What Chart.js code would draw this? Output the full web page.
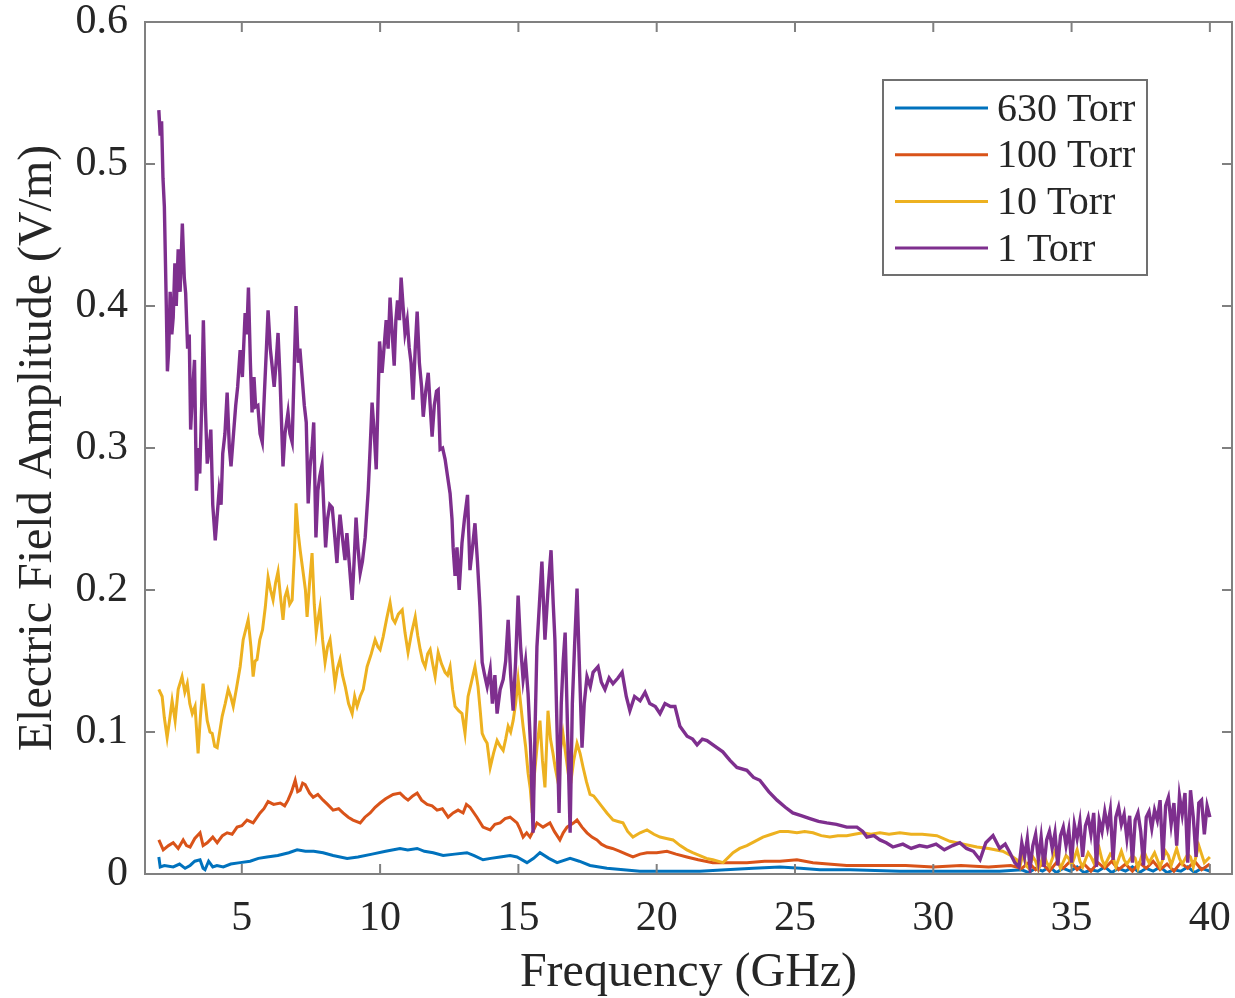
<!DOCTYPE html>
<html lang="en">
<head>
  <meta charset="UTF-8">
  <title>Electric Field Amplitude vs Frequency</title>
  <style>
    body {
      margin: 0;
      background: #fff;
    }
    #wrap {
      width: 1235px;
      height: 998px;
    }
  </style>
</head>
<body>

<div id="wrap">
  <canvas id="fieldChart" width="1235" height="998"></canvas>
</div>

<script src="https://cdn.jsdelivr.net/npm/chart.js"></script>
<script>
  // axis ticks
  const xTicks = [5, 10, 15, 20, 25, 30, 35, 40];
  const yTicks = [0, 0.1, 0.2, 0.3, 0.4, 0.5, 0.6];

  const seriesLabels = ['630 Torr', '100 Torr', '10 Torr', '1 Torr'];
  const seriesColors = ['#0072BD', '#D95319', '#EDB120', '#7E2F8E'];

  // [frequency GHz, amplitude V/m]
  const torr630 = [
    [2.00,0.012],[2.05,0.005],[2.20,0.006],[2.52,0.005],[2.75,0.007],[2.95,0.004],[3.13,0.006],[3.30,0.009],
    [3.49,0.010],[3.60,0.004],[3.67,0.003],[3.80,0.009],[3.95,0.005],[4.10,0.006],[4.33,0.005],[4.60,0.007],
    [4.94,0.008],[5.30,0.009],[5.60,0.011],[5.91,0.012],[6.30,0.013],[6.70,0.015],[7.00,0.017],[7.30,0.016],
    [7.60,0.016],[7.94,0.015],[8.30,0.013],[8.81,0.011],[9.20,0.012],[9.71,0.014],[10.20,0.016],[10.72,0.018],
    [11.00,0.017],[11.34,0.018],[11.60,0.016],[11.92,0.015],[12.28,0.013],[12.70,0.014],[13.14,0.015],[13.40,0.013],
    [13.72,0.010],[14.00,0.011],[14.34,0.012],[14.70,0.013],[14.95,0.012],[15.31,0.008],[15.55,0.011],[15.78,0.015],
    [16.10,0.011],[16.40,0.008],[16.87,0.011],[17.20,0.009],[17.59,0.006],[18.20,0.004],[18.80,0.003],[19.39,0.002],
    [20.50,0.002],[21.56,0.002],[22.50,0.003],[23.50,0.004],[24.46,0.005],[25.20,0.004],[25.90,0.003],[27.00,0.003],
    [28.79,0.002],[30.50,0.002],[32.40,0.002],[33.20,0.003],[33.45,0.001],[33.70,0.004],[33.95,0.002],[34.20,0.005],
    [34.45,0.001],[34.70,0.004],[34.95,0.002],[35.20,0.005],[35.45,0.001],[35.70,0.003],[35.95,0.002],[36.20,0.005],
    [36.45,0.001],[36.70,0.004],[36.95,0.002],[37.20,0.005],[37.45,0.001],[37.70,0.004],[37.95,0.002],[38.20,0.005],
    [38.45,0.001],[38.70,0.003],[38.95,0.002],[39.20,0.005],[39.45,0.001],[39.70,0.004],[40.00,0.002]
  ];

  const torr100 = [
    [2.00,0.024],[2.16,0.017],[2.35,0.020],[2.52,0.022],[2.70,0.018],[2.88,0.024],[3.00,0.020],[3.13,0.019],
    [3.30,0.025],[3.49,0.029],[3.60,0.020],[3.75,0.022],[3.95,0.026],[4.11,0.022],[4.30,0.027],[4.47,0.029],
    [4.65,0.028],[4.83,0.033],[5.00,0.034],[5.19,0.038],[5.41,0.036],[5.66,0.043],[5.80,0.046],[5.95,0.051],
    [6.15,0.049],[6.39,0.050],[6.55,0.048],[6.67,0.052],[6.80,0.058],[6.93,0.066],[7.02,0.058],[7.11,0.059],
    [7.20,0.064],[7.29,0.063],[7.45,0.057],[7.58,0.054],[7.75,0.056],[7.94,0.052],[8.10,0.049],[8.30,0.045],
    [8.50,0.046],[8.66,0.043],[8.85,0.040],[9.02,0.038],[9.28,0.036],[9.45,0.040],[9.64,0.043],[9.82,0.047],
    [10.00,0.050],[10.20,0.053],[10.47,0.056],[10.72,0.057],[10.88,0.054],[11.01,0.052],[11.18,0.055],[11.34,0.057],
    [11.50,0.052],[11.70,0.049],[11.88,0.048],[12.06,0.045],[12.25,0.046],[12.46,0.040],[12.64,0.043],[12.82,0.045],
    [13.00,0.043],[13.12,0.049],[13.25,0.047],[13.50,0.040],[13.72,0.033],[13.98,0.031],[14.15,0.035],[14.34,0.036],
    [14.52,0.039],[14.70,0.040],[14.95,0.036],[15.05,0.032],[15.17,0.026],[15.30,0.029],[15.42,0.026],[15.55,0.031],
    [15.67,0.036],[15.89,0.033],[16.14,0.036],[16.30,0.030],[16.50,0.024],[16.62,0.029],[16.76,0.033],[17.00,0.036],
    [17.12,0.038],[17.30,0.033],[17.48,0.029],[17.66,0.026],[17.84,0.024],[18.00,0.021],[18.20,0.019],[18.40,0.018],
    [18.67,0.016],[18.90,0.014],[19.14,0.012],[19.40,0.014],[19.65,0.015],[20.00,0.015],[20.37,0.016],[20.70,0.014],
    [21.09,0.012],[21.50,0.010],[22.03,0.008],[22.60,0.008],[23.26,0.008],[23.90,0.009],[24.46,0.009],[25.07,0.010],
    [25.65,0.008],[26.20,0.007],[26.87,0.006],[27.50,0.006],[28.07,0.006],[29.00,0.006],[30.00,0.005],[31.00,0.006],
    [32.00,0.005],[32.80,0.006],[33.20,0.004],[33.45,0.008],[33.70,0.003],[33.95,0.007],[34.20,0.002],[34.45,0.008],
    [34.70,0.004],[34.95,0.009],[35.20,0.003],[35.45,0.007],[35.70,0.002],[35.95,0.008],[36.20,0.004],[36.45,0.009],
    [36.70,0.003],[36.95,0.007],[37.20,0.002],[37.45,0.008],[37.70,0.004],[37.95,0.009],[38.20,0.003],[38.45,0.007],
    [38.70,0.002],[38.95,0.008],[39.20,0.004],[39.45,0.009],[39.70,0.003],[40.00,0.007]
  ];

  const torr10 = [
    [2.00,0.130],[2.12,0.125],[2.20,0.110],[2.30,0.096],[2.40,0.110],[2.48,0.122],[2.59,0.108],[2.70,0.130],
    [2.84,0.139],[2.94,0.128],[3.03,0.134],[3.12,0.120],[3.21,0.113],[3.31,0.118],[3.42,0.085],[3.50,0.110],
    [3.60,0.134],[3.68,0.120],[3.75,0.108],[3.85,0.100],[3.93,0.099],[4.02,0.090],[4.11,0.089],[4.20,0.100],
    [4.29,0.111],[4.40,0.120],[4.51,0.130],[4.60,0.125],[4.69,0.118],[4.80,0.130],[4.94,0.146],[5.05,0.165],
    [5.14,0.172],[5.23,0.179],[5.33,0.160],[5.41,0.139],[5.48,0.150],[5.55,0.151],[5.65,0.165],[5.75,0.172],
    [5.85,0.188],[5.95,0.209],[6.04,0.200],[6.13,0.193],[6.22,0.205],[6.31,0.213],[6.40,0.195],[6.49,0.179],
    [6.56,0.195],[6.64,0.200],[6.73,0.190],[6.82,0.193],[6.90,0.225],[6.96,0.261],[7.04,0.240],[7.11,0.228],
    [7.22,0.212],[7.30,0.200],[7.36,0.181],[7.45,0.205],[7.54,0.226],[7.62,0.190],[7.69,0.170],[7.76,0.180],
    [7.83,0.188],[7.92,0.165],[8.01,0.149],[8.10,0.160],[8.19,0.165],[8.28,0.150],[8.37,0.134],[8.46,0.145],
    [8.55,0.151],[8.64,0.140],[8.74,0.132],[8.86,0.120],[8.99,0.113],[9.08,0.125],[9.17,0.118],[9.28,0.125],
    [9.39,0.130],[9.53,0.146],[9.68,0.155],[9.82,0.165],[9.92,0.160],[10.00,0.158],[10.11,0.167],[10.24,0.180],
    [10.36,0.191],[10.45,0.180],[10.54,0.177],[10.66,0.183],[10.80,0.186],[10.90,0.170],[11.01,0.156],[11.14,0.170],
    [11.27,0.181],[11.36,0.168],[11.45,0.158],[11.54,0.150],[11.63,0.146],[11.72,0.155],[11.81,0.158],[11.90,0.148],
    [11.99,0.139],[12.10,0.156],[12.22,0.148],[12.35,0.142],[12.44,0.140],[12.53,0.146],[12.62,0.130],[12.71,0.118],
    [12.84,0.115],[12.96,0.113],[13.07,0.099],[13.18,0.125],[13.30,0.135],[13.43,0.146],[13.54,0.132],[13.62,0.115],
    [13.69,0.099],[13.78,0.095],[13.87,0.092],[13.98,0.075],[14.10,0.085],[14.23,0.094],[14.34,0.090],[14.45,0.087],
    [14.54,0.095],[14.63,0.104],[14.72,0.100],[14.81,0.108],[14.90,0.120],[14.99,0.137],[15.08,0.120],[15.17,0.104],
    [15.26,0.090],[15.35,0.071],[15.43,0.060],[15.50,0.043],[15.58,0.070],[15.67,0.089],[15.78,0.108],[15.87,0.080],
    [15.96,0.061],[16.07,0.115],[16.16,0.095],[16.25,0.085],[16.33,0.075],[16.40,0.068],[16.50,0.085],[16.61,0.099],
    [16.74,0.080],[16.87,0.061],[17.00,0.080],[17.12,0.092],[17.23,0.085],[17.34,0.075],[17.46,0.065],[17.59,0.056],
    [17.72,0.055],[17.84,0.052],[18.00,0.048],[18.20,0.043],[18.42,0.038],[18.60,0.037],[18.78,0.036],[18.95,0.030],
    [19.14,0.026],[19.40,0.029],[19.65,0.031],[19.90,0.028],[20.12,0.026],[20.35,0.025],[20.59,0.024],[20.85,0.020],
    [21.09,0.017],[21.30,0.015],[21.56,0.013],[21.80,0.011],[22.03,0.010],[22.40,0.008],[22.76,0.015],[23.00,0.018],
    [23.26,0.020],[23.55,0.023],[23.84,0.026],[24.15,0.028],[24.46,0.030],[24.75,0.030],[25.07,0.029],[25.35,0.030],
    [25.65,0.029],[25.95,0.027],[26.26,0.026],[26.55,0.027],[26.87,0.027],[27.15,0.028],[27.45,0.029],[27.75,0.028],
    [28.07,0.029],[28.40,0.028],[28.79,0.029],[29.20,0.028],[29.60,0.028],[30.13,0.027],[30.60,0.023],[31.10,0.021],
    [31.58,0.019],[32.00,0.018],[32.51,0.016],[32.80,0.013],[33.02,0.010],[33.13,0.005],[33.25,0.015],[33.35,0.006],
    [33.45,0.004],[33.60,0.012],[33.70,0.009],[33.80,0.003],[34.00,0.014],[34.10,0.008],[34.20,0.005],[34.40,0.016],
    [34.50,0.010],[34.60,0.004],[34.80,0.013],[34.90,0.011],[35.00,0.006],[35.20,0.017],[35.30,0.009],[35.40,0.005],
    [35.60,0.015],[35.70,0.012],[35.80,0.008],[36.00,0.018],[36.10,0.010],[36.20,0.006],[36.40,0.014],[36.50,0.012],
    [36.60,0.005],[36.80,0.016],[36.90,0.010],[37.00,0.007],[37.20,0.013],[37.30,0.011],[37.40,0.004],[37.60,0.017],
    [37.70,0.012],[37.80,0.008],[38.00,0.015],[38.10,0.010],[38.20,0.005],[38.40,0.016],[38.50,0.013],[38.60,0.006],
    [38.80,0.018],[38.90,0.011],[39.00,0.007],[39.20,0.014],[39.30,0.012],[39.40,0.005],[39.60,0.020],[39.70,0.014],
    [39.80,0.008],[40.00,0.012]
  ];

  const torr1 = [
    [2.00,0.538],[2.05,0.520],[2.10,0.530],[2.15,0.490],[2.20,0.470],[2.27,0.400],[2.31,0.354],[2.36,0.370],
    [2.41,0.410],[2.47,0.380],[2.52,0.392],[2.58,0.430],[2.63,0.400],[2.70,0.440],[2.77,0.410],[2.85,0.458],
    [2.92,0.420],[2.97,0.409],[3.04,0.370],[3.10,0.380],[3.15,0.313],[3.22,0.340],[3.29,0.362],[3.36,0.270],
    [3.43,0.300],[3.48,0.282],[3.55,0.330],[3.61,0.390],[3.68,0.330],[3.75,0.289],[3.82,0.300],[3.88,0.313],
    [3.95,0.260],[4.04,0.235],[4.10,0.250],[4.18,0.270],[4.25,0.260],[4.31,0.296],[4.39,0.310],[4.47,0.339],
    [4.55,0.300],[4.61,0.287],[4.70,0.310],[4.78,0.330],[4.85,0.343],[4.94,0.369],[5.02,0.350],[5.12,0.395],
    [5.18,0.380],[5.24,0.413],[5.31,0.360],[5.37,0.325],[5.44,0.350],[5.50,0.329],[5.58,0.330],[5.66,0.310],
    [5.74,0.304],[5.82,0.340],[5.89,0.370],[5.95,0.397],[6.03,0.370],[6.10,0.357],[6.17,0.343],[6.24,0.360],
    [6.31,0.381],[6.38,0.350],[6.45,0.310],[6.49,0.287],[6.56,0.310],[6.67,0.325],[6.74,0.310],[6.82,0.304],
    [6.90,0.360],[6.96,0.400],[7.04,0.360],[7.10,0.370],[7.18,0.350],[7.26,0.330],[7.33,0.318],[7.40,0.261],
    [7.47,0.287],[7.54,0.300],[7.60,0.318],[7.68,0.237],[7.75,0.270],[7.82,0.280],[7.90,0.288],[7.96,0.260],
    [8.03,0.230],[8.10,0.250],[8.18,0.260],[8.27,0.258],[8.35,0.240],[8.44,0.219],[8.50,0.240],[8.55,0.253],
    [8.62,0.240],[8.73,0.221],[8.80,0.240],[8.88,0.220],[8.99,0.193],[9.06,0.220],[9.13,0.251],[9.20,0.230],
    [9.28,0.212],[9.36,0.220],[9.46,0.237],[9.57,0.270],[9.64,0.300],[9.71,0.332],[9.79,0.310],[9.86,0.285],
    [9.92,0.330],[9.98,0.375],[10.07,0.353],[10.14,0.370],[10.22,0.390],[10.29,0.370],[10.36,0.406],[10.44,0.380],
    [10.51,0.358],[10.57,0.390],[10.63,0.404],[10.70,0.390],[10.76,0.420],[10.83,0.400],[10.90,0.381],[10.98,0.390],
    [11.05,0.371],[11.12,0.360],[11.19,0.334],[11.27,0.370],[11.34,0.396],[11.42,0.360],[11.50,0.343],[11.56,0.322],
    [11.65,0.340],[11.74,0.353],[11.81,0.330],[11.88,0.308],[11.96,0.330],[12.04,0.340],[12.10,0.341],[12.17,0.299],
    [12.26,0.300],[12.35,0.292],[12.44,0.280],[12.53,0.268],[12.60,0.250],[12.64,0.230],[12.71,0.210],[12.78,0.230],
    [12.86,0.200],[12.96,0.233],[13.05,0.250],[13.16,0.267],[13.25,0.214],[13.34,0.230],[13.43,0.247],[13.52,0.220],
    [13.61,0.188],[13.69,0.149],[13.78,0.140],[13.87,0.132],[13.98,0.144],[14.06,0.120],[14.15,0.140],[14.23,0.113],
    [14.34,0.130],[14.45,0.137],[14.54,0.150],[14.63,0.179],[14.72,0.140],[14.81,0.115],[14.90,0.150],[14.99,0.196],
    [15.08,0.160],[15.17,0.137],[15.26,0.150],[15.35,0.127],[15.44,0.090],[15.53,0.029],[15.60,0.100],[15.67,0.160],
    [15.76,0.190],[15.85,0.220],[15.96,0.165],[16.07,0.200],[16.18,0.228],[16.26,0.190],[16.32,0.165],[16.40,0.100],
    [16.47,0.043],[16.55,0.120],[16.62,0.150],[16.69,0.170],[16.78,0.100],[16.87,0.029],[16.95,0.120],[17.03,0.160],
    [17.12,0.201],[17.20,0.150],[17.30,0.089],[17.38,0.120],[17.48,0.139],[17.60,0.132],[17.70,0.142],[17.88,0.146],
    [18.00,0.135],[18.13,0.130],[18.28,0.138],[18.42,0.134],[18.60,0.138],[18.75,0.142],[18.90,0.125],[19.03,0.115],
    [19.20,0.125],[19.40,0.122],[19.58,0.128],[19.75,0.120],[19.95,0.118],[20.12,0.113],[20.30,0.120],[20.50,0.118],
    [20.66,0.118],[20.84,0.104],[21.10,0.097],[21.30,0.095],[21.46,0.091],[21.65,0.095],[21.82,0.094],[22.10,0.090],
    [22.39,0.086],[22.65,0.080],[22.90,0.075],[23.26,0.073],[23.50,0.068],[23.73,0.066],[24.05,0.058],[24.35,0.052],
    [24.65,0.047],[24.92,0.043],[25.25,0.041],[25.54,0.039],[25.85,0.037],[26.15,0.036],[26.50,0.035],[26.87,0.033],
    [27.24,0.033],[27.45,0.030],[27.60,0.026],[27.85,0.027],[28.07,0.024],[28.30,0.022],[28.54,0.019],[28.90,0.021],
    [29.20,0.018],[29.50,0.020],[29.77,0.019],[30.10,0.021],[30.40,0.017],[30.70,0.020],[30.96,0.022],[31.20,0.018],
    [31.45,0.016],[31.69,0.010],[31.90,0.022],[32.16,0.027],[32.40,0.018],[32.60,0.021],[32.77,0.015],[32.95,0.008],
    [33.10,0.005],[33.20,0.022],[33.30,0.012],[33.40,0.025],[33.50,0.004],[33.60,0.020],[33.70,0.028],[33.80,0.010],
    [33.90,0.026],[34.00,0.005],[34.10,0.024],[34.20,0.030],[34.30,0.018],[34.40,0.029],[34.50,0.006],[34.60,0.027],
    [34.70,0.033],[34.80,0.020],[34.90,0.031],[35.00,0.008],[35.10,0.035],[35.20,0.025],[35.30,0.037],[35.40,0.012],
    [35.50,0.034],[35.60,0.040],[35.70,0.028],[35.80,0.043],[35.90,0.005],[36.00,0.038],[36.10,0.030],[36.20,0.044],
    [36.30,0.033],[36.40,0.045],[36.50,0.010],[36.60,0.040],[36.70,0.047],[36.80,0.035],[36.90,0.042],[37.00,0.025],
    [37.10,0.041],[37.20,0.008],[37.30,0.038],[37.40,0.043],[37.50,0.030],[37.60,0.006],[37.70,0.040],[37.80,0.044],
    [37.90,0.032],[38.00,0.045],[38.10,0.038],[38.20,0.052],[38.30,0.010],[38.40,0.048],[38.50,0.054],[38.60,0.035],
    [38.70,0.050],[38.80,0.020],[38.90,0.055],[39.00,0.042],[39.10,0.057],[39.20,0.008],[39.30,0.059],[39.40,0.040],
    [39.50,0.012],[39.60,0.050],[39.70,0.052],[39.80,0.028],[39.90,0.048],[40.00,0.040]
  ];

  const allSeries = [torr630, torr100, torr10, torr1];

  const serif = "'Liberation Serif', 'Times New Roman', serif";
  const textColor = '#262626';
  const frameColor = '#808080';

  // MATLAB style box with inward ticks on all four sides, plus the legend box
  const matlabFrame = {
    id: 'matlabFrame',
    afterDraw(chart) {
      const ctx = chart.ctx;
      const a = chart.chartArea;
      const xs = chart.scales.x;
      const ys = chart.scales.y;
      const tl = 10;
      ctx.save();
      ctx.strokeStyle = frameColor;
      ctx.lineWidth = 2;
      ctx.strokeRect(a.left, a.top, a.right - a.left, a.bottom - a.top);
      ctx.beginPath();
      xTicks.forEach(v => {
        const px = xs.getPixelForValue(v);
        ctx.moveTo(px, a.bottom); ctx.lineTo(px, a.bottom - tl);
        ctx.moveTo(px, a.top); ctx.lineTo(px, a.top + tl);
      });
      yTicks.forEach(v => {
        const py = ys.getPixelForValue(v);
        ctx.moveTo(a.left, py); ctx.lineTo(a.left + tl, py);
        ctx.moveTo(a.right, py); ctx.lineTo(a.right - tl, py);
      });
      ctx.stroke();

      // legend
      const bx = 883, by = 80, bw = 264, bh = 195;
      ctx.fillStyle = '#fff';
      ctx.fillRect(bx, by, bw, bh);
      ctx.strokeStyle = '#707070';
      ctx.lineWidth = 2;
      ctx.strokeRect(bx, by, bw, bh);
      ctx.font = '40px ' + serif;
      ctx.textBaseline = 'middle';
      ctx.textAlign = 'left';
      seriesLabels.forEach((lab, i) => {
        const y = 108 + i * 46.7;
        ctx.strokeStyle = seriesColors[i];
        ctx.lineWidth = 3;
        ctx.beginPath();
        ctx.moveTo(895, y); ctx.lineTo(988, y);
        ctx.stroke();
        ctx.fillStyle = textColor;
        ctx.fillText(lab, 997, y + 2);
      });
      ctx.restore();
    }
  };

  const ctx = document.getElementById('fieldChart').getContext('2d');
  const fieldChart = new Chart(ctx, {
    type: 'line',
    data: {
      datasets: allSeries.map((s, i) => ({
        label: seriesLabels[i],
        data: s.map(p => ({ x: p[0], y: p[1] })),
        borderColor: seriesColors[i],
        borderWidth: i === 3 ? 3.4 : 3,
        pointRadius: 0,
        tension: 0,
        fill: false,
        order: 4 - i
      }))
    },
    options: {
      responsive: false,
      animation: false,
      layout: { padding: { top: 22, right: 3, left: 0, bottom: 0 } },
      plugins: {
        legend: { display: false },
        tooltip: { enabled: false }
      },
      scales: {
        x: {
          type: 'linear',
          min: 1.5,
          max: 40.8,
          afterBuildTicks: s => { s.ticks = xTicks.map(v => ({ value: v })); },
          afterFit: s => { s.height = 124; s.paddingLeft = 0; s.paddingRight = 0; },
          grid: { display: false, drawTicks: false },
          border: { display: false },
          ticks: {
            padding: 20,
            maxRotation: 0,
            color: textColor,
            font: { family: serif, size: 42 }
          },
          title: {
            display: true,
            text: 'Frequency (GHz)',
            color: textColor,
            font: { family: serif, size: 48 },
            padding: { top: 0, bottom: -4 }
          }
        },
        y: {
          min: 0,
          max: 0.6,
          afterBuildTicks: s => { s.ticks = yTicks.map(v => ({ value: v })); },
          afterFit: s => { s.width = 145; s.paddingTop = 0; s.paddingBottom = 0; },
          grid: { display: false, drawTicks: false },
          border: { display: false },
          ticks: {
            padding: 17,
            color: textColor,
            font: { family: serif, size: 42 },
            callback: v => String(+v.toFixed(1))
          },
          title: {
            display: true,
            text: 'Electric Field Amplitude (V/m)',
            color: textColor,
            font: { family: serif, size: 48 },
            padding: { top: 10, bottom: 0 }
          }
        }
      }
    },
    plugins: [matlabFrame]
  });
</script>

</body>
</html>
